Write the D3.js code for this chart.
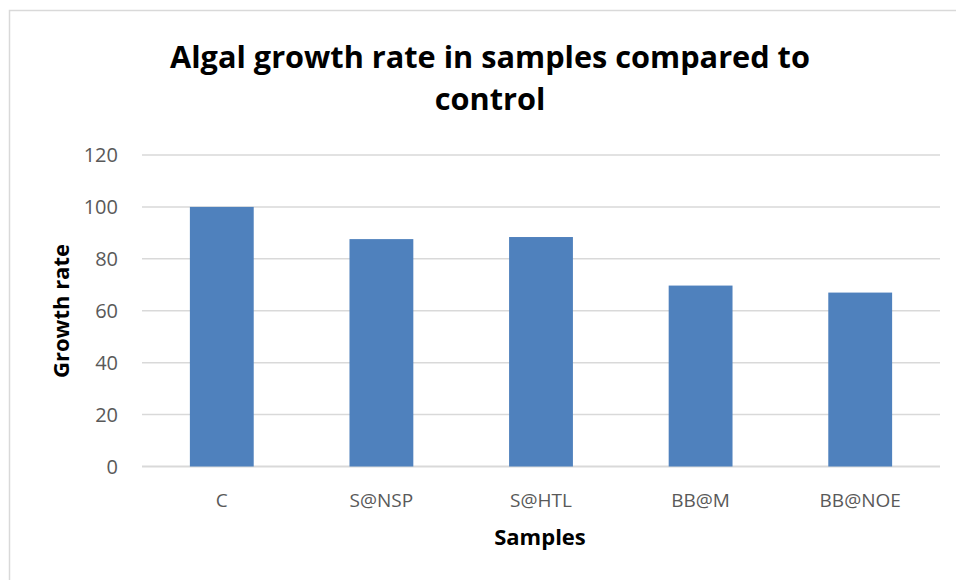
<!DOCTYPE html>
<html>
<head>
<meta charset="utf-8">
<script src="https://cdn.jsdelivr.net/npm/d3@7"></script>
<style>
  body { margin: 0; background: #fff; }
  svg { display: block; font-family: "Open Sans", sans-serif; }
</style>
</head>
<body>
<div id="chart"></div>
<script>
// Data
const samples = ["C", "S@NSP", "S@HTL", "BB@M", "BB@NOE"];
const growthRate = [100, 87.6, 88.4, 69.7, 67.0];
const yTicks = [0, 20, 40, 60, 80, 100, 120];

const width = 956;
const height = 580;
const margin = {top: 155, right: 16, bottom: 113, left: 142};

const svg = d3.select("#chart").append("svg")
    .attr("width", width)
    .attr("height", height);

// chart frame (runs off the right and bottom edges)
svg.append("rect")
    .attr("x", 9.5).attr("y", 10.5)
    .attr("width", 980).attr("height", 600)
    .attr("fill", "white")
    .attr("stroke", "#d9d9d9")
    .attr("stroke-width", 1.5);

const x = d3.scaleBand()
    .domain(samples)
    .range([margin.left, width - margin.right])
    .paddingInner(0.6)
    .paddingOuter(0.3);

const y = d3.scaleLinear()
    .domain([0, 120])
    .range([height - margin.bottom - 0.5, margin.top]);

// gridlines
svg.append("g")
    .selectAll("line")
    .data(yTicks)
    .join("line")
    .attr("x1", margin.left)
    .attr("x2", width - margin.right)
    .attr("y1", d => y(d))
    .attr("y2", d => y(d))
    .attr("stroke", "#d9d9d9")
    .attr("stroke-width", d => d === 0 ? 2 : 1.5);

// y tick labels
svg.append("g")
    .selectAll("text")
    .data(yTicks)
    .join("text")
    .attr("x", 118)
    .attr("y", d => y(d))
    .attr("dy", "0.36em")
    .attr("text-anchor", "end")
    .attr("fill", "#595959")
    .attr("font-size", 20)
    .text(d => d);

// bars
svg.append("g")
    .attr("fill", "#4f81bd")
    .selectAll("rect")
    .data(samples)
    .join("rect")
    .attr("x", d => x(d))
    .attr("width", x.bandwidth())
    .attr("y", (d, i) => y(growthRate[i]))
    .attr("height", (d, i) => y(0) - y(growthRate[i]));

// category labels
svg.append("g")
    .selectAll("text")
    .data(samples)
    .join("text")
    .attr("x", d => x(d) + x.bandwidth() / 2)
    .attr("y", 507)
    .attr("text-anchor", "middle")
    .attr("fill", "#595959")
    .attr("font-size", 19)
    .text(d => d);

// titles
const title1 = svg.append("text")
    .attr("x", 490).attr("y", 68)
    .attr("text-anchor", "middle")
    .attr("font-weight", "bold")
    .attr("font-size", 31)
    .text("Algal growth rate in samples compared to");
const title2 = svg.append("text")
    .attr("x", 490).attr("y", 110)
    .attr("text-anchor", "middle")
    .attr("font-weight", "bold")
    .attr("font-size", 31)
    .text("control");

// squeeze the wide fallback font to the reference line width
const fit = title1.node().getComputedTextLength();
const fs = 31 * 640 / fit;
title1.attr("font-size", fs);
title2.attr("font-size", fs);

svg.append("text")
    .attr("transform", "translate(69,311) rotate(-90)")
    .attr("text-anchor", "middle")
    .attr("font-weight", "bold")
    .attr("font-size", 22)
    .text("Growth rate");

svg.append("text")
    .attr("x", 540).attr("y", 545)
    .attr("text-anchor", "middle")
    .attr("font-weight", "bold")
    .attr("font-size", 22)
    .text("Samples");
</script>
</body>
</html>
